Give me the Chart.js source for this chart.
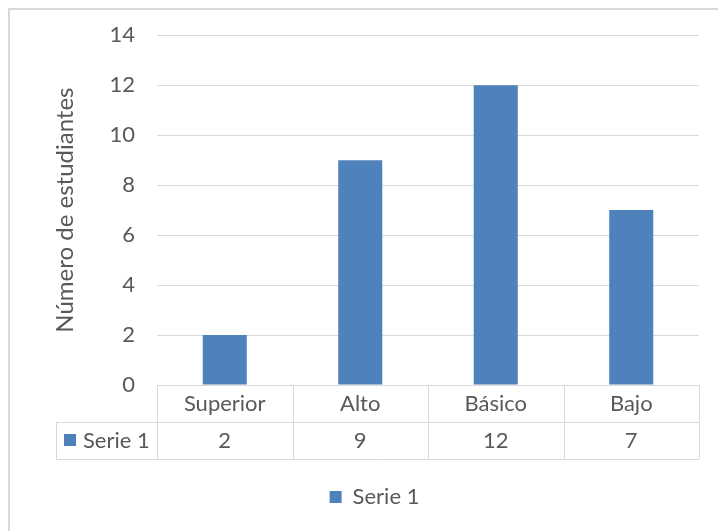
<!DOCTYPE html>
<html>
<head>
<meta charset="utf-8">
<script src="https://cdn.jsdelivr.net/npm/chart.js@4"></script>
<style>
  html, body { margin: 0; padding: 0; background: #fff; }
  #wrap { width: 718px; height: 531px; }
</style>
</head>
<body>
<div id="wrap"><canvas id="chart" width="718" height="531"></canvas></div>
<script>
// data
const categories = ['Superior', 'Alto', 'Básico', 'Bajo'];
const seriesName = 'Serie 1';
const serie1     = [2, 9, 12, 7];
const yTicks     = [0, 2, 4, 6, 8, 10, 12, 14];

const BAR_COLOR  = '#4F81BD';
const TEXT_COLOR = '#595959';
const LINE_COLOR = '#D9D9D9';
const FONT       = 'Lato, "Open Sans", sans-serif';

// frame + data table under the x axis, drawn from the x scale
const dataTable = {
  id: 'dataTable',
  beforeDraw(chart) {
    const c = chart.ctx;
    c.save();
    c.strokeStyle = LINE_COLOR;
    c.lineWidth = 2;
    c.strokeRect(9, 9, 1000, 1000);
    c.restore();
  },
  afterDraw(chart) {
    const c  = chart.ctx;
    const x  = chart.scales.x;
    const top = chart.chartArea.bottom;
    const rowH = 37;
    const left = x.left, right = x.right;
    const tableLeft = 56;
    const step = (right - left) / categories.length;

    c.save();
    c.strokeStyle = LINE_COLOR;
    c.lineWidth = 1;
    c.beginPath();
    // horizontal lines
    c.moveTo(left, top + 0.5);             c.lineTo(right, top + 0.5);
    c.moveTo(tableLeft, top + rowH + 0.5); c.lineTo(right, top + rowH + 0.5);
    c.moveTo(tableLeft, top + 2 * rowH + 0.5); c.lineTo(right, top + 2 * rowH + 0.5);
    // vertical lines
    for (let i = 0; i <= categories.length; i++) {
      const px = Math.round(left + i * step) + 0.5;
      c.moveTo(px, top); c.lineTo(px, top + 2 * rowH);
    }
    c.moveTo(tableLeft + 0.5, top + rowH); c.lineTo(tableLeft + 0.5, top + 2 * rowH);
    c.stroke();

    c.fillStyle = TEXT_COLOR;
    c.font = '22px ' + FONT;
    c.textAlign = 'center';
    c.textBaseline = 'middle';
    categories.forEach((cat, i) => {
      const cx = x.getPixelForValue(i);
      c.fillText(cat, cx, top + rowH / 2);
      c.fillText(String(serie1[i]), cx, top + rowH * 1.5);
    });

    // series key in first column
    c.fillStyle = BAR_COLOR;
    c.fillRect(64, top + rowH + 12, 12, 12);
    c.fillStyle = TEXT_COLOR;
    c.textAlign = 'left';
    c.fillText(seriesName, 83, top + rowH * 1.5);
    c.restore();
  }
};

new Chart(document.getElementById('chart'), {
  type: 'bar',
  data: {
    labels: categories,
    datasets: [{
      label: seriesName,
      data: serie1,
      backgroundColor: BAR_COLOR,
      categoryPercentage: 1,
      barPercentage: 0.325,
    }]
  },
  options: {
    responsive: false,
    animation: false,
    layout: { padding: { left: 50, right: 19, top: 29, bottom: 13 } },
    plugins: {
      tooltip: { enabled: false },
      legend: {
        position: 'bottom',
        labels: {
          boxWidth: 12, boxHeight: 12, padding: 10,
          color: TEXT_COLOR,
          font: { family: FONT, size: 22 }
        }
      }
    },
    scales: {
      x: {
        ticks: { display: false },
        grid: { display: false, drawTicks: false },
        border: { display: false },
        afterFit: s => { s.height = 91; }
      },
      y: {
        min: 0, max: 14,
        afterBuildTicks: s => { s.ticks = yTicks.map(v => ({ value: v })); },
        afterFit: s => { s.width = 107; },
        ticks: { color: TEXT_COLOR, padding: 22, font: { family: FONT, size: 22 } },
        grid: { color: LINE_COLOR, drawTicks: false },
        border: { display: false },
        title: {
          display: true,
          text: 'Número de estudiantes',
          color: TEXT_COLOR,
          font: { family: FONT, size: 24 },
          padding: { top: 1, bottom: 0 }
        }
      }
    }
  },
  plugins: [dataTable]
});
</script>
</body>
</html>
